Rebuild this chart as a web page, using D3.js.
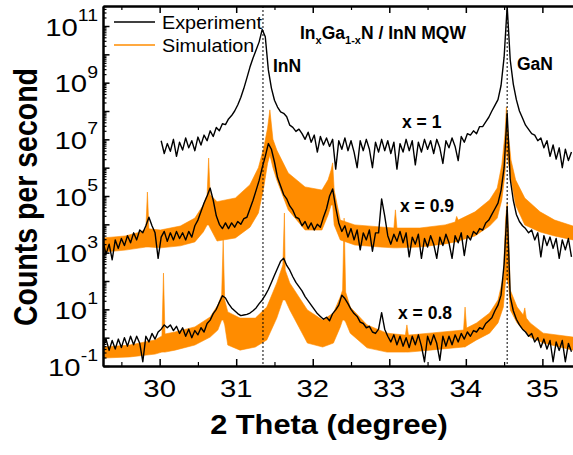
<!DOCTYPE html>
<html>
<head>
<meta charset="utf-8">
<script src="https://cdn.jsdelivr.net/npm/d3@7/dist/d3.min.js"></script>
<style>
html,body{margin:0;padding:0;background:#fff;}
svg{display:block;}
text{font-family:"Liberation Sans",Arial,Helvetica,sans-serif;fill:#000;}
</style>
</head>
<body>
<svg id="chart" width="573" height="455"></svg>
<script>
// ---------------- DATA ----------------
// 2 Theta sampling positions of the measured scans (degree)
const twoTheta = [
29.26,29.30,29.34,29.38,29.42,29.46,29.50,29.54,29.58,29.62,
29.66,29.70,29.74,29.78,29.82,29.86,29.90,29.94,29.98,30.02,
30.06,30.10,30.14,30.18,30.22,30.26,30.30,30.34,30.38,30.42,
30.46,30.50,30.54,30.58,30.62,30.66,30.70,30.74,30.78,30.82,
30.86,30.90,30.94,30.98,31.02,31.06,31.10,31.14,31.18,31.22,
31.26,31.30,31.34,31.38,31.42,31.46,31.50,31.54,31.58,31.62,
31.66,31.70,31.74,31.78,31.82,31.86,31.90,31.94,31.98,32.02,
32.06,32.10,32.14,32.18,32.22,32.26,32.30,32.34,32.38,32.42,
32.46,32.50,32.54,32.58,32.62,32.66,32.70,32.74,32.78,32.82,
32.86,32.90,32.94,32.98,33.02,33.06,33.10,33.14,33.18,33.22,
33.26,33.30,33.34,33.38,33.42,33.46,33.50,33.54,33.58,33.62,
33.66,33.70,33.74,33.78,33.82,33.86,33.90,33.94,33.98,34.02,
34.06,34.10,34.14,34.18,34.22,34.26,34.30,34.34,34.38,34.42,
34.46,34.50,34.54,34.58,34.62,34.66,34.70,34.74,34.78,34.82,
34.86,34.90,34.94,34.98,35.02,35.06,35.10,35.14,35.18,35.22,
35.26,35.30,35.34,35.38
];

// Experiment, log10(counts per second), x = 1 (null = not measured)
const expX10 = [
null,null,null,null,null,null,null,null,null,null,
null,null,null,null,null,null,null,null,null,6.95,
6.50,6.85,6.58,7.00,6.40,6.90,6.62,7.05,6.70,6.95,
6.60,7.08,6.80,7.15,6.95,7.30,7.10,7.42,7.30,7.55,
7.52,7.72,7.84,8.00,8.21,8.48,8.80,9.17,9.55,9.87,
10.15,10.44,10.88,10.62,9.45,8.81,8.38,8.14,7.97,7.92,
7.80,7.50,7.42,7.28,7.36,7.20,7.00,7.25,6.90,7.15,
6.55,7.10,6.80,7.05,6.75,7.00,5.95,6.95,6.65,7.05,
6.60,6.95,6.55,6.00,6.95,6.60,7.00,6.65,6.00,6.90,
6.55,7.00,6.60,6.95,6.50,6.90,5.95,6.85,6.55,7.00,
6.60,6.95,6.10,6.90,6.55,7.00,6.65,6.95,6.50,7.00,
6.70,6.15,6.95,6.70,7.05,6.75,6.25,7.10,6.90,7.20,
7.15,7.30,7.20,7.45,7.45,7.62,7.78,8.00,8.20,8.40,
8.90,9.90,11.70,9.80,8.95,8.40,8.00,7.75,7.50,7.35,
7.20,7.15,6.95,7.05,6.70,6.95,6.40,6.80,6.30,6.70,
6.00,6.65,6.25,6.55
];

// Experiment, log10(counts per second), x = 0.9
const expX09 = [
3.40,2.95,3.30,2.75,3.45,3.15,3.50,3.25,3.60,3.35,
3.70,3.45,3.80,3.70,3.95,4.25,3.95,3.70,2.80,3.55,
3.75,3.40,3.70,3.45,3.75,3.50,3.70,3.45,3.75,3.55,
3.95,4.15,4.45,4.75,5.00,5.28,4.85,4.30,4.00,3.85,
4.05,3.85,4.05,3.90,4.10,4.00,4.20,4.25,4.55,4.85,
5.20,5.55,6.00,6.40,6.85,6.65,6.20,5.65,5.35,5.05,
4.90,4.65,4.50,4.25,4.20,3.95,4.10,3.85,4.05,3.80,
4.00,3.90,4.25,4.55,5.00,5.25,4.60,4.05,3.75,3.95,
3.55,3.85,3.45,3.80,3.10,3.70,3.45,3.80,3.05,3.70,
3.70,4.90,4.30,3.60,3.30,3.65,3.40,3.75,3.35,3.70,
2.85,3.55,3.30,3.65,2.80,3.50,3.20,3.60,3.30,2.80,
3.55,3.25,3.65,3.35,2.80,3.60,3.35,3.70,2.90,3.60,
3.45,3.75,3.65,3.85,3.80,4.05,4.15,4.35,4.55,4.75,
5.20,6.00,7.93,5.60,4.85,4.35,4.10,3.95,3.85,3.70,
3.80,3.45,3.70,2.85,3.60,3.25,3.55,3.15,3.50,2.80,
3.45,3.10,3.50,2.85
];

// Experiment, log10(counts per second), x = 0.8
const expX08 = [
-0.30,-0.05,-0.45,-0.10,-0.40,-0.05,-0.35,0.00,-0.30,0.05,
-0.25,0.05,-0.20,-0.85,0.05,-0.15,0.15,-0.05,0.20,0.30,
0.45,0.35,0.45,0.25,0.40,0.15,0.35,0.05,0.30,0.00,
0.25,0.10,0.35,0.20,0.50,0.62,0.85,1.00,1.25,1.48,
1.40,1.20,1.05,0.95,0.85,0.78,0.80,0.82,0.87,0.95,
1.05,1.20,1.33,1.50,1.70,1.95,2.20,2.45,2.70,2.80,
2.55,2.38,2.15,1.95,1.80,1.65,1.45,1.30,1.15,1.00,
0.85,0.75,0.65,0.72,0.60,0.85,0.98,1.15,1.50,1.38,
1.20,1.00,0.85,0.75,0.55,0.50,0.35,0.40,0.20,0.15,
0.30,0.88,0.30,0.05,-0.15,0.10,-0.25,0.05,-0.30,0.00,
-0.35,0.05,-0.25,0.10,-0.30,-0.85,0.05,-0.25,0.10,-0.20,
-0.80,0.05,-0.30,0.05,-0.25,0.10,-0.15,0.15,-0.05,0.20,
0.05,0.25,0.20,0.35,0.30,0.50,0.60,0.70,0.95,1.15,
1.50,2.60,4.61,1.45,0.95,0.65,0.45,0.30,0.20,0.05,
0.15,-0.15,0.00,-0.35,-0.05,-0.40,-0.10,-0.85,-0.15,-0.45,
-0.10,-0.85,-0.20,-0.50
];

// Simulation envelopes [2theta, log10 lower, log10 upper], x = 0.9
const simX09 = [
[29.26,3.02,3.52],[29.55,3.09,3.59],[29.75,3.17,3.73],[29.82,3.20,3.84],
[29.84,3.20,5.14],[29.86,3.20,3.84],[30.01,3.17,3.80],[30.27,3.24,3.94],
[30.46,3.38,4.22],[30.57,3.73,4.68],[30.62,3.98,5.04],[30.64,3.98,6.34],
[30.66,3.87,5.04],[30.75,3.41,4.80],[30.99,3.52,4.93],[31.18,3.90,5.40],
[31.29,4.40,6.00],[31.36,5.30,6.70],[31.41,6.15,7.40],[31.44,6.45,8.04],
[31.48,6.00,7.00],[31.53,5.57,6.62],[31.68,4.51,5.81],[31.90,3.80,5.32],
[32.12,3.80,5.21],[32.20,4.33,5.57],[32.24,4.68,5.92],[32.26,4.68,6.17],
[32.28,3.98,5.21],[32.36,3.45,4.15],[32.55,3.27,3.98],[32.88,3.20,3.91],
[33.06,3.17,3.87],[33.08,3.17,4.51],[33.10,3.17,3.87],[33.40,3.20,3.87],
[33.73,3.31,3.98],[33.86,3.38,4.08],[33.88,3.38,4.28],[33.90,3.41,4.15],
[34.12,3.59,4.44],[34.31,3.94,4.86],[34.41,4.22,5.28],[34.47,4.86,6.10],
[34.51,5.74,7.15],[34.53,6.62,8.14],[34.55,6.27,7.33],[34.59,5.57,6.27],
[34.65,4.68,5.57],[34.77,3.98,4.93],[34.97,3.73,4.44],[35.16,3.59,4.15],
[35.40,3.45,3.94]
];

// Simulation envelopes [2theta, log10 lower, log10 upper], x = 0.8
const simX08 = [
[29.26,-0.72,-0.33],[29.61,-0.68,-0.26],[29.94,-0.58,-0.08],[30.03,-0.51,0.06],
[30.05,-0.51,2.28],[30.07,-0.51,0.13],[30.20,-0.44,0.20],[30.46,-0.26,0.38],
[30.66,0.02,0.73],[30.76,0.27,1.15],[30.81,0.62,1.51],[30.83,0.62,3.45],
[30.85,0.45,1.33],[30.89,-0.26,0.91],[31.05,-0.44,0.69],[31.25,-0.33,0.69],
[31.40,-0.08,1.08],[31.53,0.69,1.93],[31.61,1.33,2.57],[31.63,1.33,4.40],
[31.64,1.33,2.39],[31.70,0.98,1.93],[31.93,-0.19,0.98],[32.13,-0.33,0.62],
[32.27,-0.19,0.87],[32.36,0.38,1.44],[32.39,0.62,1.68],[32.41,0.62,4.22],
[32.43,0.55,1.61],[32.49,0.16,1.08],[32.71,-0.36,0.45],[32.97,-0.51,0.16],
[33.21,-0.51,0.09],[33.23,-0.51,0.45],[33.25,-0.51,0.09],[33.53,-0.44,0.16],
[33.97,-0.33,0.27],[33.99,-0.33,1.08],[34.01,-0.29,0.34],[34.14,-0.08,0.52],
[34.31,0.16,0.87],[34.42,0.52,1.33],[34.49,1.08,2.14],[34.52,2.04,4.22],
[34.54,2.04,4.75],[34.56,1.86,3.59],[34.58,0.98,1.68],[34.67,0.52,1.08],
[34.75,0.27,0.80],[34.77,0.27,1.05],[34.79,0.20,0.69],[34.84,0.02,0.52],
[35.01,-0.19,0.16],[35.40,-0.44,0.02]
];

const xMajorTicks = [30, 31, 32, 33, 34, 35];
const xMinorTicks = [29.5, 30.5, 31.5, 32.5, 33.5, 34.5];
const yLabelExponents = [-1, 1, 3, 5, 7, 9, 11];
const yDecadeExponents = [-1,0,1,2,3,4,5,6,7,8,9,10,11];
const refLines = [31.35, 34.54];          // InN and GaN reference positions
const legendLabels = ["Experiment", "Simulation"];
const peakLabels = ["InN", "GaN"];
const curveLabels = ["x = 1", "x = 0.9", "x = 0.8"];
const xTitle = "2 Theta (degree)";
const yTitle = "Counts per second";

// ---------------- LAYOUT ----------------
const svg = d3.select("#chart");
const X0 = 103, X1 = 573, Y0 = 6, Y1 = 366;
const x = d3.scaleLinear().domain([29.26, 35.40]).range([X0, X1]);
const y = d3.scaleLog().domain([1e-1, Math.pow(10, 11.706)]).range([Y1, Y0]);
const yv = e => y(Math.pow(10, e));
const ORANGE = "#ff8c00";

svg.append("defs").append("clipPath").attr("id", "plotClip")
  .append("rect").attr("x", X0).attr("y", Y0).attr("width", X1 - X0).attr("height", Y1 - Y0);

const plot = svg.append("g").attr("clip-path", "url(#plotClip)");

// simulation bands
const area = d3.area().x(d => x(d[0])).y0(d => yv(d[1])).y1(d => yv(d[2]));
[simX09, simX08].forEach(s => {
  plot.append("path").attr("d", area(s)).attr("fill", ORANGE).attr("stroke", ORANGE)
    .attr("stroke-width", 0.6);
});

// reference dotted lines
refLines.forEach(v => {
  plot.append("line").attr("x1", x(v)).attr("x2", x(v)).attr("y1", Y0).attr("y2", Y1)
    .attr("stroke", "#000").attr("stroke-width", 1).attr("stroke-dasharray", "2,2");
});

// experiment lines
const line = d3.line().defined(d => d[1] !== null).x(d => x(d[0])).y(d => yv(d[1]));
[expX10, expX09, expX08].forEach(s => {
  plot.append("path").attr("d", line(twoTheta.map((t, i) => [t, s[i]])))
    .attr("fill", "none").attr("stroke", "#000").attr("stroke-width", 1.4)
    .attr("stroke-linejoin", "round");
});

// axes
function styleAxis(g, major) {
  g.select(".domain").attr("stroke-width", 2);
  g.selectAll(".tick line").attr("stroke-width", major ? 1.5 : 1.2);
  g.selectAll(".tick text").remove();
}
svg.append("g").attr("transform", `translate(0,${Y1})`)
  .call(d3.axisBottom(x).tickValues(xMajorTicks).tickSizeInner(-7).tickSizeOuter(0).tickFormat(""))
  .call(g => styleAxis(g, true));
svg.append("g").attr("transform", `translate(0,${Y1})`)
  .call(d3.axisBottom(x).tickValues(xMinorTicks).tickSizeInner(-4).tickSizeOuter(0).tickFormat(""))
  .call(g => styleAxis(g, false));
svg.append("g").attr("transform", `translate(0,${Y0})`)
  .call(d3.axisTop(x).tickValues(xMajorTicks).tickSizeInner(-7).tickSizeOuter(0).tickFormat(""))
  .call(g => styleAxis(g, true));
svg.append("g").attr("transform", `translate(0,${Y0})`)
  .call(d3.axisTop(x).tickValues(xMinorTicks).tickSizeInner(-4).tickSizeOuter(0).tickFormat(""))
  .call(g => styleAxis(g, false));

const yMinor = [];
yDecadeExponents.forEach(e => {
  for (let k = 2; k <= 9; k++) {
    const v = k * Math.pow(10, e);
    if (v < y.domain()[1]) yMinor.push(v);
  }
});
svg.append("g").attr("transform", `translate(${X0},0)`)
  .call(d3.axisLeft(y).tickValues(yDecadeExponents.map(e => Math.pow(10, e))).tickSizeInner(-6.5).tickSizeOuter(0).tickFormat(""))
  .call(g => styleAxis(g, true));
svg.append("g").attr("transform", `translate(${X0},0)`)
  .call(d3.axisLeft(y).tickValues(yMinor).tickSizeInner(-3.5).tickSizeOuter(0).tickFormat(""))
  .call(g => styleAxis(g, false));

// tick labels (horizontally widened like the reference)
const TSX = 1.22;
xMajorTicks.forEach(v => {
  svg.append("g").attr("transform", `translate(${x(v)},397) scale(${TSX},1)`)
    .append("text").attr("text-anchor", "middle").attr("font-size", 24).text(v);
});
yLabelExponents.forEach(e => {
  const t = svg.append("g").attr("transform", `translate(98,${yv(e)}) scale(${TSX},1)`)
    .append("text").attr("text-anchor", "end").attr("y", 9.5).attr("font-size", 24);
  t.append("tspan").text("10");
  t.append("tspan").attr("dy", -14.5).attr("font-size", 16).text(e);
});

// axis titles
svg.append("g").attr("transform", "translate(329,434) scale(1.08,1)")
  .append("text").attr("text-anchor", "middle").attr("font-size", 28.5).attr("font-weight", "bold").text(xTitle);
svg.append("g").attr("transform", "translate(37,197) scale(1.15,1) rotate(-90)")
  .append("text").attr("text-anchor", "middle").attr("font-size", 28.5).attr("font-weight", "bold").text(yTitle);

// legend
[["#000", 22, 29], [ORANGE, 45, 52]].forEach((d, i) => {
  svg.append("line").attr("x1", 114).attr("x2", 155).attr("y1", d[1]).attr("y2", d[1])
    .attr("stroke", d[0]).attr("stroke-width", 1.5);
  svg.append("g").attr("transform", `translate(162,${d[2]}) scale(1.1,1)`)
    .append("text").attr("font-size", 18).text(legendLabels[i]);
});

// title
const title = svg.append("text").attr("x", 300).attr("y", 39).attr("font-size", 17.5).attr("font-weight", "bold");
title.append("tspan").text("In");
title.append("tspan").attr("font-size", 11).attr("dy", 5).text("x");
title.append("tspan").attr("dy", -5).text("Ga");
title.append("tspan").attr("font-size", 11).attr("dy", 5).text("1-x");
title.append("tspan").attr("dy", -5).text("N / InN MQW");

// peak and composition labels
const bold = (txt, px, py) => svg.append("text").attr("x", px).attr("y", py)
  .attr("font-size", 17.5).attr("font-weight", "bold").text(txt);
bold(peakLabels[0], 273, 72);
bold(peakLabels[1], 517, 70);
bold(curveLabels[0], 402, 128);
bold(curveLabels[1], 400, 212);
bold(curveLabels[2], 398, 319);
</script>
</body>
</html>
